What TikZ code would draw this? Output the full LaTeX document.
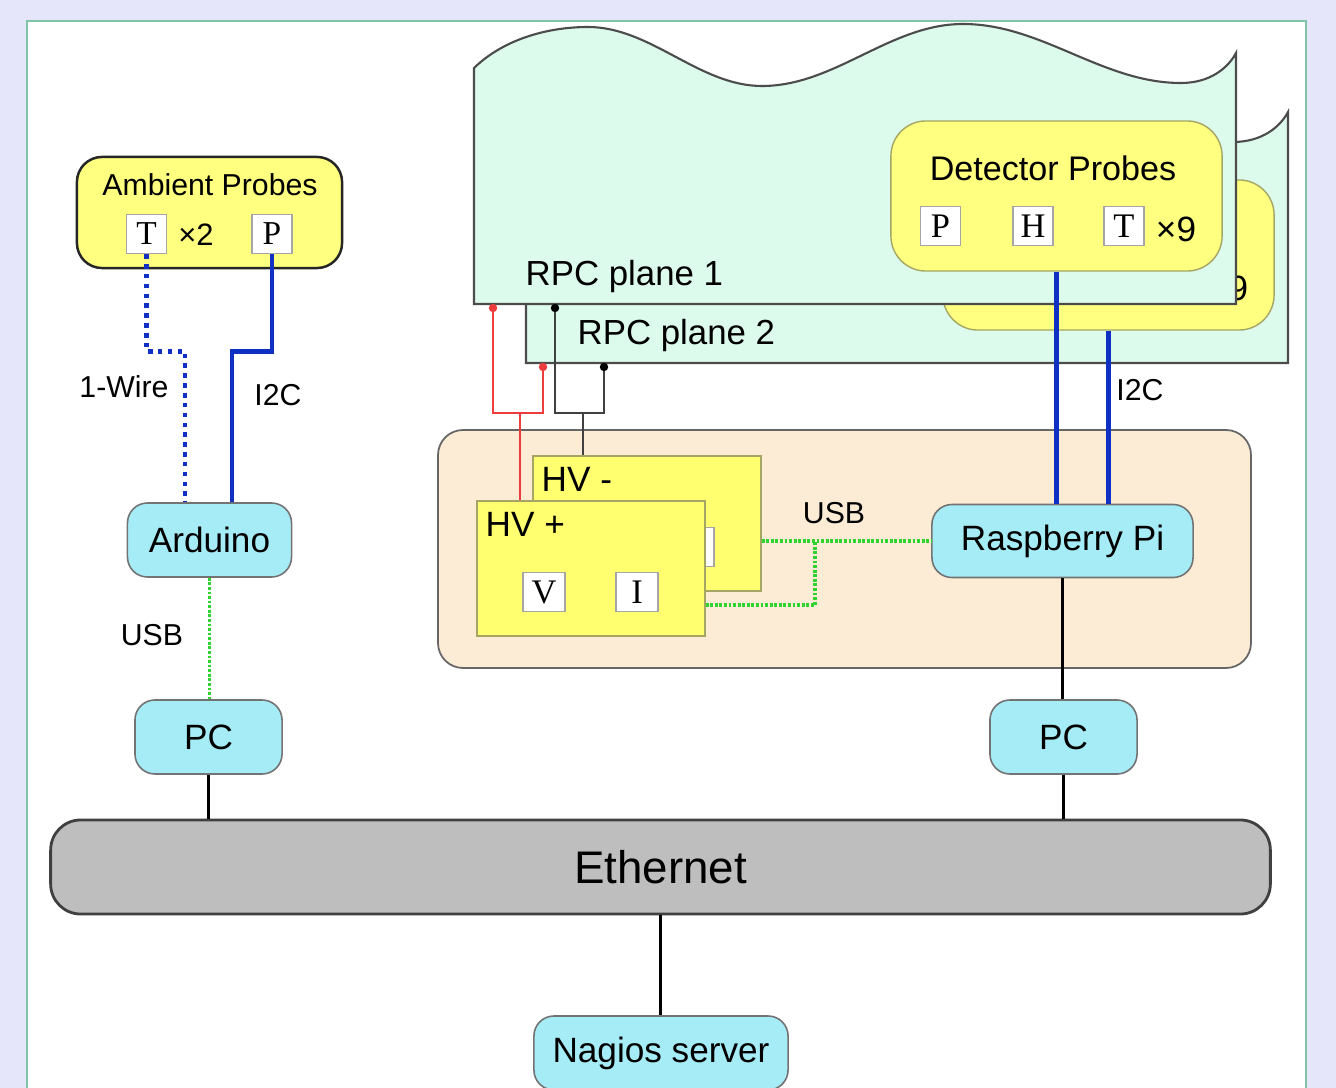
\documentclass[tikz,border=0pt]{standalone}
\usepackage{fontspec}
\setmainfont{Liberation Sans}
\newfontfamily\lettfont{Liberation Serif}
\usepackage{tikz}
\usepackage{xcolor}

\definecolor{lavbg}{RGB}{230,230,250}
\definecolor{framegreen}{RGB}{130,195,165}
\definecolor{mint}{RGB}{221,251,236}
\definecolor{peach}{RGB}{252,236,213}
\definecolor{probeyel}{RGB}{255,255,128}
\definecolor{hvyel}{RGB}{255,255,112}
\definecolor{hvedge}{RGB}{165,165,100}
\definecolor{devcyan}{RGB}{166,236,246}
\definecolor{ethgray}{RGB}{190,190,190}
\definecolor{wireblue}{RGB}{16,48,196}
\definecolor{usbgreen}{RGB}{48,210,48}
\definecolor{hvred}{RGB}{236,60,60}

\newcommand{\fontsz}[1]{\fontsize{#1}{#1}\selectfont}

\begin{document}
\begin{tikzpicture}[x=0.01cm,y=-0.01cm,
  dev/.style={draw=black!55,fill=devcyan,rounded corners=0.2cm,line width=0.45pt,inner sep=0pt,font=\fontsz{10}},
  letbox/.style={draw=black!35,fill=white,line width=0.4pt,minimum width=0.4cm,minimum height=0.39cm,inner sep=0pt,font=\lettfont\fontsz{9.8}},
  lbl/.style={inner sep=0pt,font=\fontsz{8.6}},
  bus/.style={line width=0.9pt,black},
  i2cw/.style={line width=1.4pt,wireblue},
  onew/.style={line width=1.4pt,wireblue,dash pattern=on 1.3pt off 1.5pt},
  usbw/.style={line width=1.1pt,usbgreen,dash pattern=on 0.8pt off 0.5pt},
  hvw/.style={line width=0.55pt}]
 \path[use as bounding box] (0,0) rectangle (1336,1088);
 \clip (0,0) rectangle (1336,1088);
 \fill[lavbg] (0,0) rectangle (1336,1088);
 \draw[framegreen,fill=white,line width=0.4pt] (27,21) rectangle (1306,1100);

 % the two RPC planes, back one first
 \foreach \dx/\dy/\n in {52/59/2,0/0/1}{
  \begin{scope}[shift={(\dx,\dy)}]
   \draw[fill=mint,draw=black!70,line width=0.6pt] (474,304) -- (474,68)
     .. controls (505,38) and (550,27) .. (588,27)
     .. controls (651,27) and (699,86) .. (762,86)
     .. controls (835,86) and (890,24) .. (963,24)
     .. controls (1042,24) and (1102,83) .. (1181,83)
     .. controls (1210,83) and (1228,68) .. (1236,53) -- (1236,304) -- cycle;
   \node[lbl,font=\fontsz{9.9},anchor=west] (rpc\n) at (525,276) {RPC plane \n};
   \node[draw=hvedge,fill=probeyel,line width=0.4pt,rounded corners=0.35cm,minimum width=3.31cm,minimum height=1.5cm] (dp\n) at (1056.5,196) {};
   \node[lbl,font=\fontsz{10}] (dpx\n) at (1176,229) {×9};
  \end{scope}}
 \node[lbl,font=\fontsz{9.7}] (dpt) at (1053,168) {Detector Probes};
 \node[letbox] (dpP) at (940.5,226) {P};
 \node[letbox] (dpH) at (1033,226) {H};
 \node[letbox] (dpT) at (1124,226) {T};

 \draw[fill=peach,draw=black!60,line width=0.5pt,rounded corners=0.25cm] (438,430) rectangle (1251,668);

 % HV supplies
 \foreach \dx/\dy/\s/\nm in {56/-45/-/hvm,0/0/+/hvp}{
  \begin{scope}[shift={(\dx,\dy)}]
   \node[draw=hvedge,fill=hvyel,line width=0.4pt,minimum width=2.28cm,minimum height=1.35cm,inner sep=0pt] (\nm) at (591,568.5) {};
   \node[lbl,font=\fontsz{10},anchor=west] (\nm-t) at (485,524) {HV \s};
   \node[letbox,minimum width=0.42cm] (\nm-V) at (544,592) {V};
   \node[letbox,minimum width=0.42cm] (\nm-I) at (637,592) {I};
  \end{scope}}

 \node[draw=black!85,fill=probeyel,rounded corners=0.25cm,line width=0.7pt,minimum width=2.65cm,minimum height=1.11cm] (amb) at (209.5,212.5) {};
 \node[lbl] (ambt) at (210,185) {Ambient Probes};
 \node[letbox,font=\lettfont\fontsz{9.5}] (aT) at (146.5,234) {T};
 \node[lbl,font=\fontsz{8.8}] (ax2) at (196,235) {×2};
 \node[letbox,font=\lettfont\fontsz{9.5}] (aP) at (272,234) {P};

 \node[dev,minimum width=1.64cm,minimum height=0.74cm] (ard) at (209.5,540) {Arduino};
 \node[dev,minimum width=1.47cm,minimum height=0.74cm] (pcl) at (208.5,737) {PC};
 \node[dev,minimum width=1.47cm,minimum height=0.74cm] (pcr) at (1063.5,737) {PC};
 \node[dev,minimum width=2.61cm,minimum height=0.73cm] (rpi) at (1062.5,541) {Raspberry Pi};
 \node[dev,minimum width=2.54cm,minimum height=0.74cm] (nag) at (661,1053) {Nagios server};
 \node[draw=black!75,fill=ethgray,rounded corners=0.3cm,line width=0.8pt,minimum width=12.19cm,minimum height=0.94cm,font=\fontsz{13}] (eth) at (660.5,867) {Ethernet};

 \draw[onew] (aT.south) -- ++(0,97) -| ([xshift=-0.245cm]ard.north);
 \draw[i2cw] (aP.south) -- ++(0,97) -| ([xshift=0.225cm]ard.north);
 \node[lbl] (w1) at (124,387) {1-Wire};
 \node[lbl] (w2) at (278,395) {I2C};
 \draw[usbw] (ard.south) -- (ard.south |- pcl.north);
 \node[lbl] (u1) at (152,635) {USB};
 \draw[bus] (pcl.south) -- (pcl.south |- eth.north);
 \draw[bus] (pcr.south) -- (pcr.south |- eth.north);
 \draw[bus] (rpi.south) -- (rpi.south |- pcr.north);
 \draw[bus] (eth.south) -- (eth.south |- nag.north);
 \draw[i2cw] (dp1.south) -- (dp1.south |- rpi.north);
 \draw[i2cw] (dp2.south) -- (dp2.south |- rpi.north);
 \node[lbl] (w3) at (1140,390) {I2C};

 \coordinate (uj) at (815,541);
 \draw[usbw] (hvm.east |- rpi.west) -- (rpi.west);
 \draw[usbw] ([yshift=-0.365cm]hvp.east) -| (uj);
 \node[lbl] (u2) at (834,513) {USB};

 \coordinate (r1) at (493,308); \coordinate (r2) at (543,367); \coordinate (rj) at (520,413);
 \coordinate (b1) at (555,308); \coordinate (b2) at (604,367); \coordinate (bj) at (583,413);
 \draw[hvw,hvred] (r1) |- (rj) -| (r2);
 \draw[hvw,hvred] (rj) -- (rj |- hvp.north);
 \draw[hvw,black!75] (b1) |- (bj) -| (b2);
 \draw[hvw,black!75] (bj) -- (bj |- hvm.north);
 \foreach \p in {r1,r2} \fill[hvred] (\p) circle (1.2pt);
 \foreach \p in {b1,b2} \fill[black] (\p) circle (1.2pt);
\end{tikzpicture}
\end{document}
